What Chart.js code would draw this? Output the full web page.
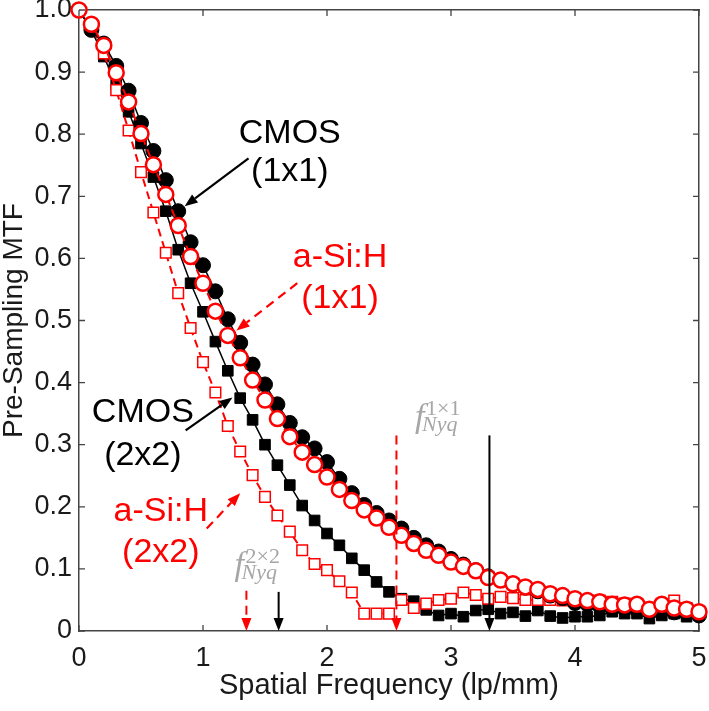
<!DOCTYPE html>
<html><head><meta charset="utf-8">
<script src="https://cdn.jsdelivr.net/npm/chart.js@4/dist/chart.umd.min.js"></script>
<style>html,body{margin:0;padding:0;background:#fff}#wrap{width:709px;height:711px}</style>
</head><body><div id="wrap"><canvas id="c" width="709" height="711"></canvas></div>
<script>
// ---- data ----
const freq = [0.0,0.1,0.2,0.3,0.4,0.5,0.6,0.7,0.8,0.9,1.0,1.1,1.2,1.3,1.4,1.5,1.6,1.7,1.8,1.9,2.0,2.1,2.2,2.3,2.4,2.5,2.6,2.7,2.8,2.9,3.0,3.1,3.2,3.3,3.4,3.5,3.6,3.7,3.8,3.9,4.0,4.1,4.2,4.3,4.4,4.5,4.6,4.7,4.8,4.9,5.0];
const cmos1x1 = [1.000,0.968,0.946,0.910,0.870,0.818,0.773,0.726,0.676,0.626,0.589,0.547,0.502,0.464,0.429,0.397,0.365,0.335,0.312,0.294,0.272,0.245,0.222,0.203,0.190,0.178,0.165,0.150,0.138,0.128,0.116,0.107,0.098,0.088,0.082,0.075,0.070,0.064,0.057,0.053,0.045,0.043,0.040,0.037,0.036,0.034,0.031,0.033,0.030,0.028,0.025];
const asi1x1 = [1.000,0.977,0.943,0.899,0.852,0.801,0.751,0.703,0.653,0.603,0.560,0.515,0.476,0.440,0.404,0.372,0.342,0.313,0.288,0.268,0.248,0.228,0.210,0.195,0.182,0.167,0.154,0.141,0.130,0.122,0.111,0.104,0.097,0.086,0.082,0.076,0.071,0.067,0.060,0.057,0.052,0.049,0.047,0.043,0.042,0.043,0.035,0.043,0.037,0.035,0.031];
const cmos2x2 = [1.000,0.968,0.925,0.880,0.836,0.785,0.731,0.676,0.614,0.560,0.514,0.466,0.419,0.375,0.340,0.300,0.267,0.235,0.202,0.178,0.157,0.138,0.117,0.098,0.079,0.063,0.052,0.048,0.034,0.025,0.028,0.023,0.033,0.035,0.028,0.030,0.024,0.033,0.024,0.021,0.023,0.023,0.025,0.031,0.028,0.028,0.020,0.025,0.028,0.023,0.025];
const asi2x2 = [1.000,0.975,0.930,0.871,0.806,0.739,0.674,0.609,0.544,0.488,0.433,0.384,0.330,0.289,0.251,0.216,0.186,0.160,0.130,0.108,0.098,0.080,0.062,0.028,0.028,0.028,0.050,0.037,0.044,0.050,0.052,0.062,0.058,0.052,0.055,0.053,0.050,0.050,0.050,0.049,0.052,0.050,0.049,0.047,0.044,0.043,0.037,0.042,0.049,0.037,0.031];
const xTickValues = [0,1,2,3,4,5];
const xTickLabels = ['0','1','2','3','4','5'];
const yTickValues = [0,0.1,0.2,0.3,0.4,0.5,0.6,0.7,0.8,0.9,1.0];
const yTickLabels = ['0','0.1','0.2','0.3','0.4','0.5','0.6','0.7','0.8','0.9','1.0'];
// Nyquist frequencies (lp/mm)
const nyqCMOS1x1 = 3.31, nyqASi1x1 = 2.56, nyqCMOS2x2 = 1.61, nyqASi2x2 = 1.35;

// ---- style / layout ----
const RED = '#ff0000', BLK = '#000000', AXIS = '#444444', GRAY = '#a6a6a6';
const SANS = "'Liberation Sans', Arial, sans-serif";
const SERIF = "'Liberation Serif', 'Times New Roman', serif";
const pts = ys => freq.map((f,i)=>({x:f,y:ys[i]}));

const calloutTexts = [
  {lines:['CMOS','(1x1)'], x:1.70, y:[0.801,0.739], color:BLK},
  {lines:['a-Si:H','(1x1)'], x:2.105, y:[0.602,0.536], color:RED},
  {lines:['CMOS','(2x2)'], x:0.515, y:[0.352,0.283], color:BLK},
  {lines:['a-Si:H','(2x2)'], x:0.66, y:[0.193,0.127], color:RED}
];
const calloutArrows = [
  {from:[1.367,0.761], to:[0.852,0.684], color:BLK, dashed:false},
  {from:[1.76,0.560], to:[1.27,0.484], color:RED, dashed:true},
  {from:[0.86,0.323], to:[1.238,0.376], color:BLK, dashed:false},
  {from:[1.03,0.165], to:[1.30,0.222], color:RED, dashed:true}
];
const nyqArrows = [
  {f:nyqCMOS1x1, top:0.315, color:BLK, dashed:false},
  {f:nyqASi1x1, top:0.315, color:RED, dashed:true},
  {f:nyqCMOS2x2, top:0.063, color:BLK, dashed:false},
  {f:nyqASi2x2, top:0.065, color:RED, dashed:true}
];
const nyqLabels = [
  {x:2.71, y:0.328, sup:'1\u00d71'},
  {x:1.254, y:0.090, sup:'2\u00d72'}
];

function arrow(ctx, x1,y1,x2,y2,color,dashed,width){
  const dx=x2-x1, dy=y2-y1, L=Math.hypot(dx,dy), ux=dx/L, uy=dy/L;
  const hl=13, hw=5;
  const bx=x2-ux*hl, by=y2-uy*hl;
  ctx.save();
  ctx.strokeStyle=color; ctx.fillStyle=color; ctx.lineWidth=width;
  ctx.setLineDash(dashed?[9,6]:[]);
  ctx.beginPath(); ctx.moveTo(x1,y1); ctx.lineTo(bx,by); ctx.stroke();
  ctx.setLineDash([]);
  ctx.beginPath(); ctx.moveTo(x2,y2);
  ctx.lineTo(bx-uy*hw, by+ux*hw); ctx.lineTo(bx+uy*hw, by-ux*hw); ctx.closePath(); ctx.fill();
  ctx.restore();
}

const annot = {
  id:'annot',
  afterDraw(chart){
    const {ctx, chartArea:ca} = chart;
    const xs = chart.scales.x, ys = chart.scales.y;
    const X=v=>xs.getPixelForValue(v), Y=v=>ys.getPixelForValue(v);
    ctx.save();
    ctx.strokeStyle=AXIS; ctx.lineWidth=1.3; const tl=6;
    ctx.beginPath();
    xTickValues.forEach(v=>{const p=X(v); ctx.moveTo(p,ca.bottom); ctx.lineTo(p,ca.bottom-tl); ctx.moveTo(p,ca.top); ctx.lineTo(p,ca.top+tl);});
    yTickValues.forEach(v=>{const p=Y(v); ctx.moveTo(ca.left,p); ctx.lineTo(ca.left+tl,p); ctx.moveTo(ca.right,p); ctx.lineTo(ca.right-tl,p);});
    ctx.stroke();
    nyqArrows.forEach(a=>arrow(ctx, X(a.f), Y(a.top), X(a.f), Y(0), a.color, a.dashed, 2));
    calloutArrows.forEach(a=>arrow(ctx, X(a.from[0]),Y(a.from[1]),X(a.to[0]),Y(a.to[1]),a.color,a.dashed,2.2));
    ctx.textAlign='center'; ctx.textBaseline='middle';
    ctx.font = "34px " + SANS;
    calloutTexts.forEach(t=>{ctx.fillStyle=t.color; t.lines.forEach((s,i)=>ctx.fillText(s, X(t.x), Y(t.y[i])));});
    ctx.textAlign='left'; ctx.textBaseline='alphabetic'; ctx.fillStyle=GRAY;
    nyqLabels.forEach(l=>{
      const px=X(l.x), py=Y(l.y);
      ctx.font = "italic 34px " + SERIF; ctx.fillText('f', px, py);
      ctx.font = "22px " + SERIF; ctx.fillText(l.sup, px+11, py-12);
      ctx.font = "italic 22px " + SERIF; ctx.fillText('Nyq', px+7, py+4);
    });
    ctx.restore();
  }
};

const noPad = s => { s.paddingLeft=0; s.paddingRight=0; s.paddingTop=0; s.paddingBottom=0; };

new Chart(document.getElementById('c'), {
  type:'scatter',
  data:{datasets:[
    {label:'a-Si:H (1x1)', data:pts(asi1x1), showLine:true, borderColor:RED, borderWidth:2, borderDash:[8,5],
     pointStyle:'circle', pointRadius:7.5, pointBorderWidth:2.5, pointBorderColor:RED, pointBackgroundColor:'#fff', order:0, clip:false},
    {label:'CMOS (1x1)', data:pts(cmos1x1), showLine:true, borderColor:BLK, borderWidth:1.5,
     pointStyle:'circle', pointRadius:7.5, pointBorderWidth:1, pointBorderColor:BLK, pointBackgroundColor:BLK, order:1, clip:false},
    {label:'a-Si:H (2x2)', data:pts(asi2x2), showLine:true, borderColor:RED, borderWidth:2, borderDash:[8,5],
     pointStyle:'rect', pointRadius:7.5, pointBorderWidth:1.5, pointBorderColor:RED, pointBackgroundColor:'#fff', order:2, clip:false},
    {label:'CMOS (2x2)', data:pts(cmos2x2), showLine:true, borderColor:BLK, borderWidth:1.5,
     pointStyle:'rect', pointRadius:7.5, pointBorderWidth:1, pointBorderColor:BLK, pointBackgroundColor:BLK, order:3, clip:false}
  ]},
  options:{
    responsive:false, animation:false, devicePixelRatio:1,
    layout:{padding:0},
    plugins:{legend:{display:false}, tooltip:{enabled:false}},
    elements:{line:{tension:0}},
    scales:{
      x:{type:'linear', position:'bottom', min:0, max:5,
        afterBuildTicks:s=>{s.ticks=xTickValues.map(v=>({value:v}));},
        afterFit:s=>{s.height=80; noPad(s);},
        ticks:{callback:(v)=>xTickLabels[xTickValues.indexOf(v)], font:{family:SANS,size:27}, color:'#1a1a1a', padding:11, maxRotation:0},
        grid:{display:false, drawTicks:false},
        border:{display:true, color:AXIS, width:1.5},
        title:{display:true, text:'Spatial Frequency (lp/mm)', font:{family:SANS,size:29}, color:'#1a1a1a', padding:{top:0,bottom:8}}},
      x2:{type:'linear', position:'top', min:0, max:5,
        afterFit:s=>{s.height=9; noPad(s);},
        ticks:{display:false}, grid:{display:false, drawTicks:false},
        border:{display:true, color:AXIS, width:1.5}},
      y:{type:'linear', position:'left', min:0, max:1,
        afterBuildTicks:s=>{s.ticks=yTickValues.map(v=>({value:v}));},
        afterFit:s=>{s.width=79; noPad(s);},
        ticks:{callback:(v)=>yTickLabels[yTickValues.findIndex(t=>Math.abs(t-v)<1e-9)], font:{family:SANS,size:27}, color:'#1a1a1a', padding:7},
        grid:{display:false, drawTicks:false},
        border:{display:true, color:AXIS, width:1.5},
        title:{display:true, text:'Pre-Sampling MTF', font:{family:SANS,size:28, lineHeight:1.0}, color:'#1a1a1a', padding:{top:0,bottom:0}}},
      y2:{type:'linear', position:'right', min:0, max:1,
        afterFit:s=>{s.width=8; noPad(s);},
        ticks:{display:false}, grid:{display:false, drawTicks:false},
        border:{display:true, color:AXIS, width:1.5}}
    }
  },
  plugins:[annot]
});
</script></body></html>
